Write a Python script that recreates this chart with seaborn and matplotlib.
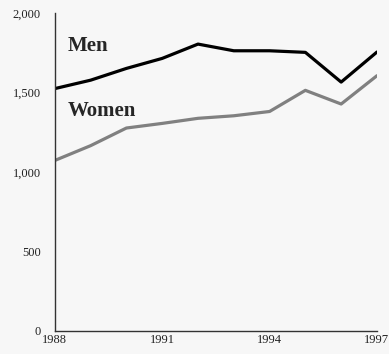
import numpy as np
import pandas as pd
import matplotlib
matplotlib.use('Agg')
import matplotlib.pyplot as plt
import seaborn as sns

# Данные
years = [1988, 1989, 1990, 1991, 1992, 1993, 1994, 1995, 1996, 1997]
men = [1525, 1578, 1652, 1715, 1805, 1763, 1763, 1753, 1566, 1755]
women = [1073, 1166, 1277, 1306, 1338, 1354, 1381, 1514, 1428, 1606]
x_ticks = [1988, 1991, 1994, 1997]
y_ticks = [0, 500, 1000, 1500, 2000]

df = pd.DataFrame({"year": years * 2,
                   "value": men + women,
                   "sex": ["Men"] * len(years) + ["Women"] * len(years)})

sns.set_theme(style="white")
plt.rcParams['font.family'] = ['Liberation Serif', 'DejaVu Serif']
bg = '#f7f7f7'

fig, ax = plt.subplots(figsize=(3.89, 3.54), dpi=100)
fig.patch.set_facecolor(bg)
ax.set_facecolor(bg)

sns.lineplot(data=df, x="year", y="value", hue="sex",
             palette={"Men": "#000000", "Women": "#808080"},
             linewidth=2.3, legend=False, ax=ax)

ax.set_xlim(1988, 1997)
ax.set_ylim(0, 2000)
ax.set_xticks(x_ticks)
ax.set_yticks(y_ticks)
ax.set_yticklabels([f"{v:,}" for v in y_ticks])
ax.tick_params(axis='both', length=0, labelsize=9, colors='#222222')
ax.tick_params(axis='x', pad=2)
ax.tick_params(axis='y', pad=10)
ax.set_xlabel("")
ax.set_ylabel("")

for side in ['top', 'right']:
    ax.spines[side].set_visible(False)
for side in ['left', 'bottom']:
    ax.spines[side].set_color('#333333')
    ax.spines[side].set_linewidth(1.0)

ax.text(1988.35, 1790, "Men", fontsize=15, fontweight='bold', va='center', ha='left')
ax.text(1988.35, 1385, "Women", fontsize=15, fontweight='bold', va='center', ha='left')

fig.subplots_adjust(left=0.141, right=0.969, top=0.963, bottom=0.065)
plt.savefig('out.png', dpi=100, facecolor=bg)
plt.close()
